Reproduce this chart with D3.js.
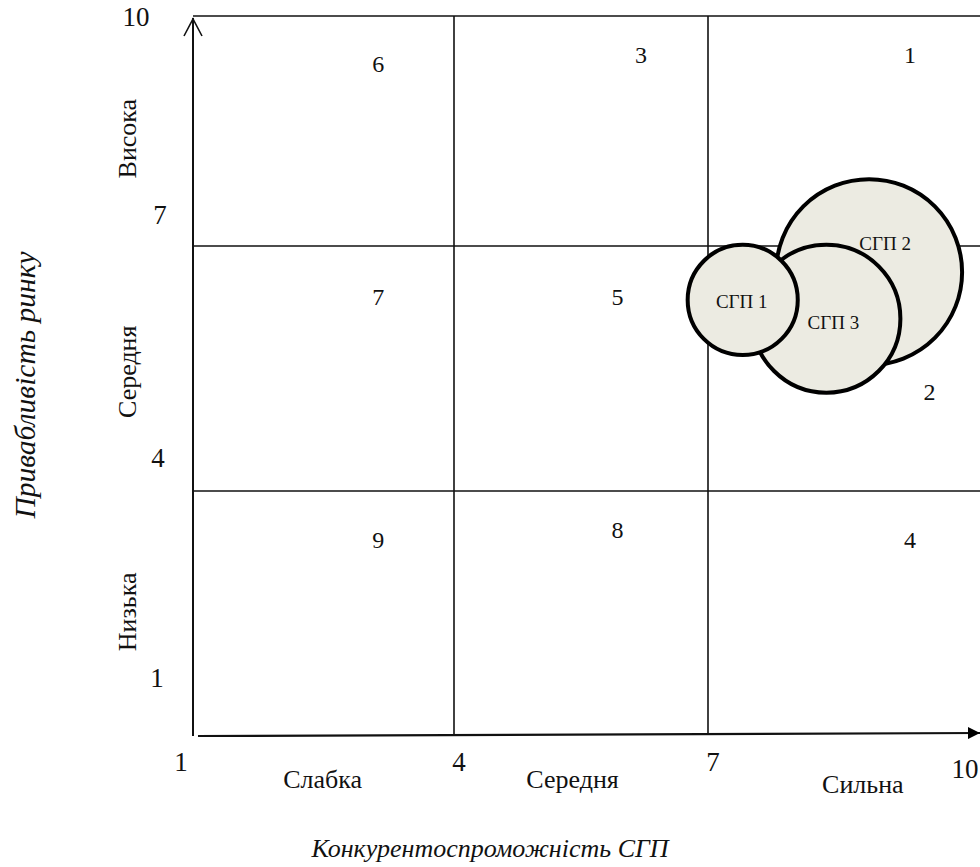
<!DOCTYPE html>
<html><head><meta charset="utf-8">
<script src="https://cdn.jsdelivr.net/npm/d3@7"></script>
<style>body{margin:0;background:#fff}svg{display:block}text{font-family:"Liberation Serif","Times New Roman",serif;fill:#111}</style>
</head><body><svg id="c" width="980" height="867"></svg>
<script>
// ---- data ----
const tickValues = [1, 4, 7, 10];
const xCategories = ["Слабка", "Середня", "Сильна"];
const yCategories = ["Низька", "Середня", "Висока"];
const cellNumbers = ["9", "8", "4", "7", "5", "2", "6", "3", "1"];
const cellX = [3.13, 5.93, 9.27, 3.13, 5.93, 9.49, 3.13, 6.21, 9.27];
const cellY = [3.40, 3.52, 3.40, 6.37, 6.37, 5.21, 9.37, 9.49, 9.49];
const unitNames = ["СГП 2", "СГП 3", "СГП 1"];
const unitX = [8.81, 8.33, 7.39];
const unitY = [6.68, 6.11, 6.34];
const unitSize = [86.5, 54.8, 30.3];
const xTitle = "Конкурентоспроможність СГП";
const yTitle = "Привабливість ринку";

// ---- scales ----
const x = d3.scaleLinear().domain(tickValues).range([193, 454, 708, 975]);
const y = d3.scaleLinear().domain(tickValues).range([736, 491, 246, 16]);
const r = d3.scaleSqrt().domain([0, 100]).range([0, 100]);

const svg = d3.select("#c");
const defs = svg.append("defs");
defs.append("marker").attr("id", "arrX").attr("viewBox", "0 0 10 10").attr("refX", 10).attr("refY", 5)
  .attr("markerWidth", 16).attr("markerHeight", 12).attr("markerUnits", "userSpaceOnUse").attr("orient", "auto")
  .append("path").attr("d", "M0,0L10,5L0,10Z").attr("fill", "#000");

const g = svg.append("g");
const lc = "#111";
g.append("line").attr("x1", x(1)).attr("x2", 980).attr("y1", y(10)).attr("y2", y(10)).attr("stroke", lc).attr("stroke-width", 1.6);
[4, 7].forEach(v => g.append("line").attr("x1", x(1)).attr("x2", 980).attr("y1", y(v)).attr("y2", y(v)).attr("stroke", lc).attr("stroke-width", 1.5));
[4, 7].forEach(v => g.append("line").attr("x1", x(v)).attr("x2", x(v)).attr("y1", y(10)).attr("y2", y(1) - 1).attr("stroke", lc).attr("stroke-width", 1.6));
// y axis with open arrow
g.append("line").attr("x1", x(1)).attr("x2", x(1)).attr("y1", y(1)).attr("y2", y(10) + 2).attr("stroke", lc).attr("stroke-width", 2);
g.append("path").attr("d", `M${x(1) - 9},${y(10) + 20}L${x(1)},${y(10) + 3}L${x(1) + 9},${y(10) + 20}`)
  .attr("fill", "none").attr("stroke", lc).attr("stroke-width", 1.6);
// x axis (slightly slanted) with filled arrow
g.append("line").attr("x1", x(1) + 5).attr("y1", y(1)).attr("x2", 980).attr("y2", y(1) - 3)
  .attr("stroke", lc).attr("stroke-width", 2.2).attr("marker-end", "url(#arrX)");

// tick labels
const yTickDx = [-36, -35, -33, -57];
const yTickDy = [-58, -33, -31, 1];
g.selectAll(".yt").data(tickValues).join("text").attr("class", "yt")
  .attr("x", (d, i) => x(1) + yTickDx[i]).attr("y", (d, i) => y(d) + yTickDy[i])
  .attr("dominant-baseline", "central").attr("text-anchor", "middle").attr("font-size", 27).text(d => d);
const xTickDx = [-12, 5, 5, -10];
const xTickDy = [26, 26, 26, 33];
g.selectAll(".xt").data(tickValues).join("text").attr("class", "xt")
  .attr("x", (d, i) => x(d) + xTickDx[i]).attr("y", (d, i) => y(1) + xTickDy[i])
  .attr("dominant-baseline", "central").attr("text-anchor", "middle").attr("font-size", 27).text(d => d);

// category labels
const xMid = [2.49, 5.4, 8.74];
g.selectAll(".xc").data(xCategories).join("text").attr("class", "xc")
  .attr("x", (d, i) => x(xMid[i])).attr("y", (d, i) => y(1) + 52 + (i === 2 ? 5 : 0))
  .attr("text-anchor", "middle").attr("font-size", 26).text(d => d);
const yMid = [2.52, 5.46, 8.4];
g.selectAll(".yc").data(yCategories).join("text").attr("class", "yc")
  .attr("transform", (d, i) => `translate(${x(1) - 66},${y(yMid[i])}) rotate(-90)`)
  .attr("text-anchor", "middle").attr("dominant-baseline", "central").attr("font-size", 26).text(d => d);

// cell numbers
g.selectAll(".cn").data(cellNumbers).join("text").attr("class", "cn")
  .attr("x", (d, i) => x(cellX[i])).attr("y", (d, i) => y(cellY[i]))
  .attr("dominant-baseline", "central").attr("text-anchor", "middle").attr("font-size", 24).text(d => d);

// bubbles
const bub = g.selectAll(".b").data(unitNames).join("g").attr("class", "b");
bub.append("circle").attr("cx", (d, i) => x(unitX[i])).attr("cy", (d, i) => y(unitY[i])).attr("r", (d, i) => r(unitSize[i]))
  .attr("fill", "#ECEBE2").attr("stroke", "#000").attr("stroke-width", 4);
const labDx = [16, 7, -1], labDy = [-29, 4, 2];
bub.append("text").attr("x", (d, i) => x(unitX[i]) + labDx[i]).attr("y", (d, i) => y(unitY[i]) + labDy[i])
  .attr("dominant-baseline", "central").attr("text-anchor", "middle").attr("font-size", 19).text(d => d);

// axis titles
svg.append("text").attr("x", 490).attr("y", 857).attr("text-anchor", "middle").attr("font-size", 26)
  .attr("font-style", "italic").text(xTitle);
svg.append("text").attr("transform", "translate(25,385) rotate(-90)").attr("text-anchor", "middle")
  .attr("dominant-baseline", "central").attr("font-size", 29.5)
  .attr("font-style", "italic").text(yTitle);
</script></body></html>
